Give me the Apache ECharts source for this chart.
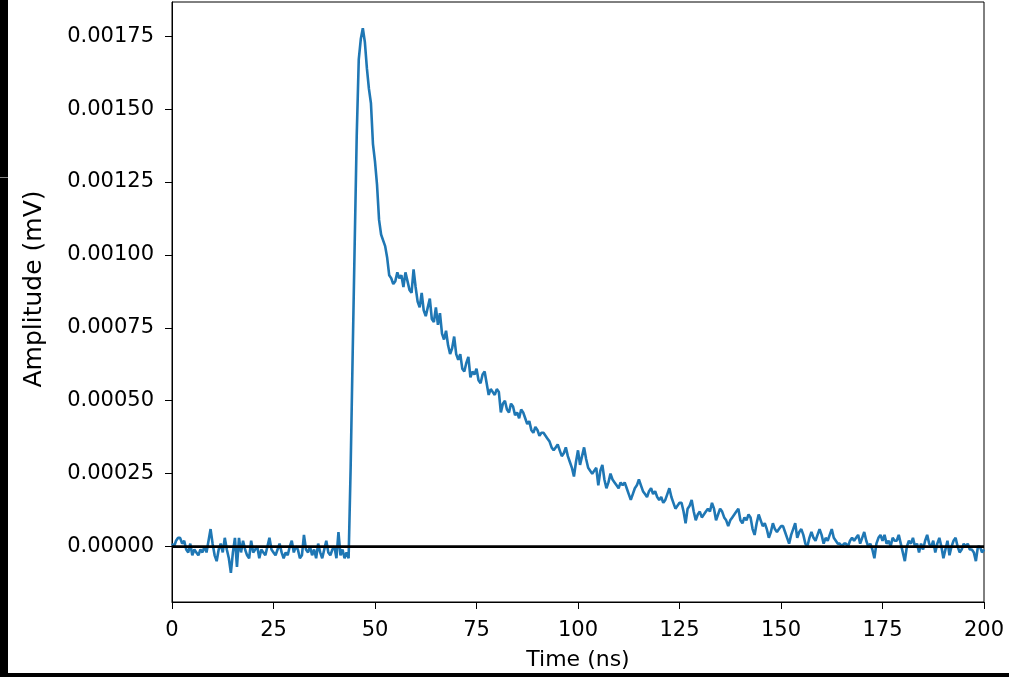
<!DOCTYPE html>
<html><head><meta charset="utf-8">
<script src="https://cdn.jsdelivr.net/npm/echarts@6/dist/echarts.min.js"></script>
<style>html,body{margin:0;padding:0;background:#fff}#c{width:1009px;height:677px}</style>
</head><body><div id="c"></div>
<script>
// time axis: samples every 0.5 ns starting at 0 ns
const timeStart = 0;
const timeStep = 0.5;
// amplitude in mV (one row = 5 ns)
const amplitude = [
 1e-5, 0, 2e-5, 3e-5, 3e-5, 1e-5, 2e-5, -1e-5, -2e-5, 1e-5,
 -3e-5, -1e-5, -2e-5, -3e-5, -1e-5, -2e-5, 0, -2e-5, 2e-5, 6e-5,
 1e-5, -3e-5, -5e-5, -1e-5, 1e-5, -2e-5, 3e-5, -1e-5, -4e-5, -9e-5,
 -2e-5, 3e-5, -7e-5, 3e-5, -2e-5, 2e-5, -1e-5, -3e-5, -4e-5, 2e-5,
 -2e-5, -1e-5, 0, -4e-5, -1e-5, -2e-5, -3e-5, 0, 3e-5, -1e-5,
 -2e-5, -3e-5, -1e-5, 1e-5, -2e-5, -4e-5, -2e-5, -3e-5, 0, 2e-5,
 -2e-5, 0, -1e-5, -4e-5, -3e-5, 4e-5, -1e-5, -2e-5, 0, -3e-5,
 -1e-5, -4e-5, 1e-5, -2e-5, -4e-5, -1e-5, 2e-5, -2e-5, -3e-5, -1e-5,
 0, -4e-5, 5e-5, -3e-5, -1e-5, -4e-5, -2e-5, -4e-5, 27e-5, 66e-5,
 104e-5, 141e-5, 167e-5, 174e-5, 177.7e-5, 173e-5, 164e-5, 157e-5, 152e-5, 138e-5,
 132e-5, 124e-5, 112e-5, 107e-5, 105e-5, 103e-5, 99e-5, 93e-5, 92e-5, 90e-5,
 91e-5, 94e-5, 92e-5, 93e-5, 89e-5, 94e-5, 91e-5, 88e-5, 87e-5, 95e-5,
 89e-5, 84e-5, 82e-5, 87e-5, 81e-5, 79e-5, 82e-5, 85e-5, 78e-5, 77e-5,
 82e-5, 76e-5, 80e-5, 73e-5, 71e-5, 74e-5, 69e-5, 66e-5, 68e-5, 72e-5,
 66e-5, 64e-5, 66e-5, 61e-5, 60e-5, 63e-5, 65e-5, 58e-5, 60e-5, 59e-5,
 61e-5, 57e-5, 56e-5, 59e-5, 60e-5, 56e-5, 52e-5, 54e-5, 53e-5, 52e-5,
 54e-5, 53e-5, 46e-5, 49e-5, 50e-5, 47e-5, 46e-5, 49e-5, 48e-5, 45e-5,
 46e-5, 44e-5, 47e-5, 46e-5, 44e-5, 42e-5, 43e-5, 40e-5, 39e-5, 41e-5,
 40e-5, 38e-5, 39e-5, 39e-5, 38e-5, 37e-5, 36e-5, 34e-5, 33e-5, 34e-5,
 35e-5, 33e-5, 31e-5, 32e-5, 34e-5, 31e-5, 29e-5, 27e-5, 24e-5, 29e-5,
 33e-5, 28e-5, 31e-5, 34e-5, 30e-5, 27e-5, 26e-5, 25e-5, 26e-5, 27e-5,
 21e-5, 26e-5, 28e-5, 23e-5, 20e-5, 22e-5, 25e-5, 23e-5, 22e-5, 21e-5,
 20e-5, 22e-5, 21e-5, 22e-5, 20e-5, 18e-5, 16e-5, 18e-5, 20e-5, 21e-5,
 23e-5, 21e-5, 19e-5, 18e-5, 17e-5, 19e-5, 20e-5, 18e-5, 19e-5, 17e-5,
 16e-5, 17e-5, 15e-5, 16e-5, 18e-5, 20e-5, 17e-5, 15e-5, 13e-5, 14e-5,
 15e-5, 15e-5, 12e-5, 8e-5, 13e-5, 14e-5, 16e-5, 12e-5, 9e-5, 11e-5,
 12e-5, 10e-5, 11e-5, 12e-5, 13e-5, 12e-5, 15e-5, 13e-5, 9e-5, 11e-5,
 13e-5, 12e-5, 10e-5, 9e-5, 7e-5, 9e-5, 10e-5, 11e-5, 12e-5, 13e-5,
 9e-5, 8e-5, 10e-5, 9e-5, 11e-5, 10e-5, 6e-5, 4e-5, 8e-5, 11e-5,
 9e-5, 7e-5, 8e-5, 6e-5, 3e-5, 5e-5, 8e-5, 6e-5, 5e-5, 6e-5,
 7e-5, 7e-5, 5e-5, 3e-5, 1e-5, 4e-5, 6e-5, 8e-5, 3e-5, 5e-5,
 6e-5, 4e-5, 1e-5, 0, 3e-5, 5e-5, 3e-5, 2e-5, 4e-5, 6e-5,
 4e-5, 1e-5, 3e-5, 2e-5, 4e-5, 6e-5, 3e-5, 2e-5, 1e-5, 1e-5,
 0, 1e-5, 1e-5, 0, 2e-5, 3e-5, 2e-5, 3e-5, 4e-5, 1e-5,
 3e-5, 5e-5, 2e-5, 0, 1e-5, -1e-5, -4e-5, 1e-5, 3e-5, 4e-5,
 2e-5, 4e-5, 1e-5, 2e-5, 0, 3e-5, 2e-5, 2e-5, 4e-5, 1e-5,
 -2e-5, -5e-5, 0, 2e-5, 1e-5, 3e-5, 0, 1e-5, -2e-5, 1e-5,
 -1e-5, 2e-5, 4e-5, 1e-5, 0, 2e-5, -2e-5, 1e-5, 3e-5, 0,
 -4e-5, -1e-5, 2e-5, -3e-5, 0, 2e-5, 3e-5, 0, -2e-5, -1e-5,
 1e-5, 0, 1e-5, -1e-5, -1e-5, -2e-5, -5e-5, 0, 0, -2e-5,
 -1e-5
];
const xTicks = [0, 25, 50, 75, 100, 125, 150, 175, 200];
const yTicks = [0, 0.00025, 0.0005, 0.00075, 0.001, 0.00125, 0.0015, 0.00175];
const yTickLabels = ['0.00000', '0.00025', '0.00050', '0.00075', '0.00100', '0.00125', '0.00150', '0.00175'];
const zeroLine = [[0, 0], [200, 0]];
const xLabel = 'Time (ns)';
const yLabel = 'Amplitude (mV)';

const seriesData = amplitude.map((v, i) => [timeStart + i * timeStep, v]);
const font = 'DejaVu Sans';

const chart = echarts.init(document.getElementById('c'), null, {renderer: 'canvas'});
chart.setOption({
  animation: false,
  backgroundColor: '#ffffff',
  grid: {left: 172, right: 25, top: 2, bottom: 75, show: true, borderColor: '#000', borderWidth: 1, backgroundColor: 'transparent'},
  xAxis: {
    type: 'value', min: 0, max: 200,
    name: xLabel, nameLocation: 'middle', nameGap: 47,
    nameTextStyle: {fontFamily: font, fontSize: 22, color: '#000'},
    axisLine: {show: true, onZero: false, lineStyle: {color: '#000', width: 1}},
    axisTick: {show: true, inside: false, length: 7, lineStyle: {color: '#000', width: 1}, customValues: xTicks},
    axisLabel: {customValues: xTicks, margin: 18, fontFamily: font, fontSize: 21, color: '#000', formatter: v => String(v)},
    splitLine: {show: false}
  },
  yAxis: {
    type: 'value', min: -0.00019, max: 0.001867,
    name: yLabel, nameLocation: 'middle', nameGap: 125, nameRotate: 90,
    nameTextStyle: {fontFamily: font, fontSize: 25, color: '#000', padding: [0, 0, 0, 26]},
    axisLine: {show: true, onZero: false, lineStyle: {color: '#000', width: 1}},
    axisTick: {show: true, inside: false, length: 7, lineStyle: {color: '#000', width: 1}, customValues: yTicks},
    axisLabel: {customValues: yTicks, margin: 18, fontFamily: font, fontSize: 21, color: '#000',
      formatter: v => { const i = yTicks.findIndex(t => Math.abs(t - v) < 1e-9); return i >= 0 ? yTickLabels[i] : ''; }},
    splitLine: {show: false}
  },
  series: [
    {type: 'line', data: seriesData, showSymbol: false, symbol: 'none', smooth: false, sampling: 'none',
     lineStyle: {color: '#1f77b4', width: 2.6}, clip: true, z: 2},
    {type: 'line', data: zeroLine, showSymbol: false, symbol: 'none',
     lineStyle: {color: '#000000', width: 2.6}, clip: true, z: 3}
  ],
  graphic: [
    {type: 'rect', left: 0, top: 0, shape: {width: 8, height: 677}, style: {fill: '#000'}, z: 100},
    {type: 'rect', left: 0, top: 673, shape: {width: 1009, height: 4}, style: {fill: '#000'}, z: 100},
    {type: 'rect', left: 0, top: 177, shape: {width: 8, height: 1}, style: {fill: '#888'}, z: 101}
  ]
});
</script></body></html>
